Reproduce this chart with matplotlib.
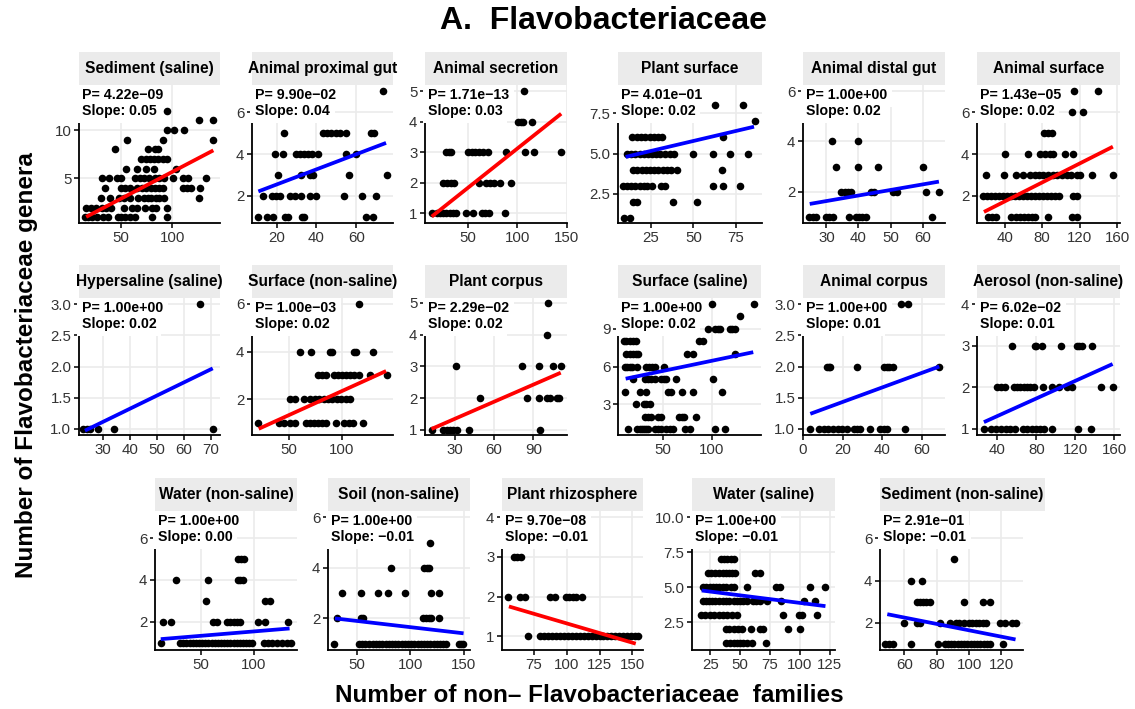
import matplotlib
matplotlib.use("Agg")
import matplotlib.pyplot as plt
import numpy as np

plt.rcParams['font.family'] = ['Liberation Sans', 'DejaVu Sans']

M = '\u2212'

# points per panel: {number of genera: [number of families, ...]}
sediment_saline = {
    12: [95], 11: [126, 140], 10: [94.5, 102, 111], 9: [56, 91, 140],
    8: [44, 76, 83, 86], 7: [69, 74, 78, 82, 86, 91, 95], 6: [55, 66, 74, 82, 104],
    5: [31, 38, 46, 50, 64, 68, 72, 77, 83, 87, 92, 101, 110, 115, 133],
    4: [34, 50, 54, 59, 66, 70, 74, 79, 83, 87, 91, 110, 114, 118, 127],
    3: [30, 39, 48, 53, 59, 67, 72, 76, 79, 84, 87, 92, 126],
    2: [16, 21, 26, 31, 35, 40, 53, 61, 66, 73, 80, 84, 95],
    1: [15, 18, 22, 27, 32, 37, 47, 50, 54, 59, 64, 80, 95],
}
animal_proximal_gut = {
    7: [73.3], 5: [23.7, 43.3, 45.5, 47.5, 49.7, 51.7, 55, 67.5, 69],
    4: [19, 23, 29.5, 31.7, 33.8, 35.8, 38, 40.8, 55, 60],
    3: [20.8, 32, 36.7, 38.3, 56.3, 75.3],
    2: [13.3, 17.5, 19.7, 21.7, 26.7, 29.2, 32, 36.7, 40, 54, 62.8, 70],
    1: [10.8, 15, 18.3, 24.2, 25.8, 32.5, 33.7, 65, 68.3],
}
animal_secretion = {
    5: [107], 4: [101, 103.5, 105.5, 115],
    3: [28, 31, 33, 50, 53.5, 57, 61, 65.4, 70.5, 88.5, 108, 117, 144],
    2: [24.7, 29, 33, 35.6, 61, 67.8, 72, 76, 82, 93.6],
    1: [12.9, 18, 21.4, 24.7, 28, 31.5, 35, 37.6, 47.5, 54.6, 63.7, 67.1, 71.5, 87.5],
}
plant_surface = {
    8: [63, 79.4], 7: [86.4],
    6: [13.6, 16.6, 19, 21.5, 24.1, 26.5, 28.9, 31.4, 67.6],
    5: [10.7, 13, 15.6, 18.2, 20.6, 23, 25.5, 28, 30.4, 33.4, 36, 38.3, 49.6, 61.7, 71.5, 82.4],
    4: [14.6, 17, 19.6, 22.1, 24.5, 26.9, 29.4, 32, 34.4, 37, 40.3, 67],
    3: [8.7, 11, 13.4, 15.8, 18.2, 20.6, 22.9, 25.3, 30.8, 33.4, 61.7, 67.6, 77.5],
    2: [14.6, 17, 38, 52], 1: [9.1, 12.6],
}
animal_distal_gut = {
    4: [31.9, 40], 3: [32.9, 40, 46, 60],
    2: [34.6, 35.7, 36.7, 37.7, 43.9, 45, 50.9, 51.9, 61, 65.1],
    1: [24.6, 25.7, 26.7, 29.8, 30.8, 32.1, 36.9, 39.1, 40.1, 41.2, 42.2, 63.1],
}
animal_surface = {
    7: [114.3, 140], 6: [112.1, 123.9], 5: [81.8, 86.4, 91],
    4: [40.7, 65, 77.5, 82.9, 88.2, 91.8, 104.3, 113.2],
    3: [20, 39, 52.5, 60, 67.5, 72, 77, 81, 86, 92, 96, 101, 106, 111, 117, 120, 133, 156],
    2: [16.8, 21.1, 25.4, 29.6, 33.9, 38.2, 42.5, 46.8, 51.1, 55.4, 59.6, 63.9, 68.2, 72.5,
        76.8, 81.1, 85.4, 89.6, 93.9, 98.2, 113.2, 117.5],
    1: [22.1, 26.8, 31.1, 47.1, 51.8, 56.1, 60.4, 65, 69.6, 72.1, 86.4, 111.4, 116.8],
}
hypersaline_saline = {
    3: [66], 1: [22.6, 24.1, 25.1, 28.1, 34.1, 70.9],
}
surface_non_saline = {
    6: [115.6], 4: [60.3, 71.2, 89, 90.6, 110.9, 113.4, 129],
    3: [77.1, 81.3, 85.3, 92.1, 95.9, 100, 104, 107.8, 111.5, 115.6, 126.5, 142.2],
    2: [51.5, 55.6, 64.7, 70.3, 74.3, 78.4, 82.8, 86.9, 90.9, 95.3, 99.3, 103.4, 107.8],
    1: [21.3, 40.6, 45.3, 51.5, 56.2, 66.5, 70.3, 74, 77.8, 81.5, 85.3, 94.7, 101.5, 106.2,
        110.3, 119.7],
}
plant_corpus = {
    5: [101], 4: [100.3], 3: [30.8, 81.6, 94.4, 104.9, 111],
    2: [49.2, 85.2, 94.4, 100.3, 102.8, 108, 110],
    1: [12.2, 21.1, 23.7, 26.2, 28.7, 31.3, 41, 95.2],
}
surface_saline = {
    11: [100, 144.1], 10: [129.3],
    9: [96.5, 103.4, 106.2, 108.6, 119, 121.4, 124.1],
    8: [9.3, 12, 15.5, 18.9, 22.4, 87.2, 91.4],
    7: [12, 15.5, 18.9, 22.4, 24.1, 74.8, 81, 124.1],
    6: [10.3, 13.1, 15.5, 18.2, 23.4, 32.1, 35.5, 39, 41.4, 51],
    5: [18.9, 31, 34.5, 38, 41.4, 48.3, 51, 53.4, 63.8, 101.7],
    4: [10.3, 25.9, 32.8, 55.2, 58.6, 69, 81, 110.3],
    3: [22.4, 30.3, 32.8, 36.2],
    2: [31, 34.5, 38, 44.8, 48.3, 66.5, 69, 71.4, 83.8],
    1: [13.8, 23.1, 25.9, 28.3, 30.3, 32.8, 34.5, 41.4, 44.8, 48.3, 53.4, 56.9, 60.3, 72.4,
        77.6, 103.4, 113.8],
}
animal_corpus = {
    3: [49.6, 52.9],
    2: [12.1, 13.1, 13.9, 27.2, 41.2, 42.4, 43.7, 45.4, 68.9],
    1: [3.4, 8.1, 10.4, 12.6, 15.1, 17.6, 19.8, 22.2, 26, 27.2, 28.6, 33.9, 38.7, 40.8, 42.4, 51.8],
}
aerosol_non_saline = {
    3: [55.3, 78.4, 80, 86.3, 105.8, 121.3, 124, 126.5, 136.8],
    2: [39.9, 44, 47.4, 57, 60.1, 63.6, 67, 70.4, 73.9, 77.7, 86.9, 96.6, 103.4, 112, 116.2,
        146.4, 159.1],
    1: [26.1, 33, 38.1, 43.3, 49.1, 53.3, 57.7, 66.3, 70.8, 75.9, 80, 83.5, 88, 96.6, 123, 135.7],
}
water_non_saline = {
    5: [85, 88.2, 91.4], 4: [26.1, 57, 85, 87.3, 89.8], 3: [54.5, 110.5, 115.3],
    2: [13.4, 21.3, 61.8, 65, 74.5, 77.7, 81.5, 84.1, 87.3, 104.1, 111.1, 132.8],
    1: [11.5, 30, 33, 36, 39, 42, 45, 48, 51, 54, 57, 60, 63, 66, 69, 72, 75, 78, 81, 84, 87,
        90, 93, 96, 99, 110, 114, 118, 122, 127, 132, 136],
}
soil_non_saline = {
    5: [118.8], 4: [82.2, 113.1, 115.6, 118.1],
    3: [35.9, 54.1, 69.7, 79, 95.3, 119.7, 126.6],
    2: [31.9, 54.1, 55.6, 112.5, 115, 117.2, 119.7, 126.6],
    1: [29.1, 52.5, 55, 58, 62, 65, 68, 71, 74, 77, 80, 83, 86, 89, 92, 95, 98, 101, 104, 107,
        110, 113, 116, 119, 122, 125, 128, 131, 134, 145.3, 147.5, 149.4],
}
plant_rhizosphere = {
    3: [60, 62.5, 65.5],
    2: [55.8, 64.5, 68.3, 87.5, 91.3, 99.5, 102, 104.5, 107, 112],
    1: [70.8, 80, 83, 86, 89, 92, 95, 98, 101, 104, 107, 110, 113, 116, 119, 122, 125, 128,
        131, 134, 137, 140, 143, 146, 149, 152, 154],
}
water_saline = {
    7: [34, 36.7, 39.4, 42, 44.7],
    6: [23.2, 25.9, 28.6, 32.6, 35.3, 38, 40.7, 43.4, 46.1, 62.8, 66.3],
    5: [19.1, 21.8, 24.5, 27.2, 29.9, 32.6, 35.3, 38, 42, 44.7, 55.5, 79.8, 83.3, 108.9, 121.6],
    4: [18.6, 21.3, 24, 26.7, 29.4, 32.1, 35.3, 38, 40.7, 44.7, 47.4, 50.1, 52.8, 55.5, 60.9,
        63.6, 66.3, 72.5, 84.6, 104, 112.7],
    3: [17.3, 20.5, 24.5, 28, 32.6, 35.3, 39.4, 43.4, 47.4, 85.7, 99.5, 102.2, 114.8],
    2: [38, 40.7, 44.7, 48.2, 51.5, 59, 67.1, 69, 90, 100],
    1: [38, 41.5, 44.7, 47.4, 50.1, 52.8, 55.5, 59.6, 71.7],
}
sediment_non_saline = {
    5: [90.8], 4: [64, 71],
    3: [67.6, 69.6, 71.7, 73.7, 75.8, 96.9, 108.6, 112.7],
    2: [60, 67.6, 69.6, 81.9, 88.1, 91.8, 93.8, 96.9, 100, 102, 104.1, 106.2, 108.6, 110.7,
        119.3, 122, 126.7, 129.2],
    1: [48, 50.7, 53.2, 64, 80.9, 85, 87, 89, 91, 93, 95, 97, 99, 101, 103, 105, 107, 109,
        111, 113, 121],
}

panel_names = ["Sediment (saline)", "Animal proximal gut", "Animal secretion", "Plant surface",
               "Animal distal gut", "Animal surface",
               "Hypersaline (saline)", "Surface (non-saline)", "Plant corpus", "Surface (saline)",
               "Animal corpus", "Aerosol (non-saline)",
               "Water (non-saline)", "Soil (non-saline)", "Plant rhizosphere", "Water (saline)",
               "Sediment (non-saline)"]
panel_data = [sediment_saline, animal_proximal_gut, animal_secretion, plant_surface,
              animal_distal_gut, animal_surface,
              hypersaline_saline, surface_non_saline, plant_corpus, surface_saline,
              animal_corpus, aerosol_non_saline,
              water_non_saline, soil_non_saline, plant_rhizosphere, water_saline,
              sediment_non_saline]
p_values = [4.22e-09, 9.90e-02, 1.71e-13, 4.01e-01, 1.00e+00, 1.43e-05,
            1.00e+00, 1.00e-03, 2.29e-02, 1.00e+00, 1.00e+00, 6.02e-02,
            1.00e+00, 1.00e+00, 9.70e-08, 1.00e+00, 2.91e-01]
slopes = [0.05, 0.04, 0.03, 0.02, 0.02, 0.02,
          0.02, 0.02, 0.02, 0.02, 0.01, 0.01,
          0.00, -0.01, -0.01, -0.01, -0.01]
# fitted line end points
fit_x = [(16, 140), (10.8, 75), (13, 144.4), (10, 85.8), (24.8, 65.1), (17.9, 155.4),
         (23.2, 70.7), (21.8, 141.5), (12.2, 111), (11.4, 143), (3.7, 68.9), (26.1, 158.4),
         (11.5, 134.4), (29.7, 150), (56.25, 152.5), (17.8, 121.6), (49.5, 128.7)]
fit_y = [(1.03, 7.9), (2.21, 4.53), (0.89, 4.26), (4.79, 6.67), (1.51, 2.4), (1.23, 4.35),
         (0.97, 1.97), (0.75, 3.18), (1.03, 2.8), (5.03, 7.14), (1.24, 2.0), (1.16, 2.56),
         (1.17, 1.68), (2.0, 1.41), (1.75, 0.81), (4.76, 3.64), (2.4, 1.2)]
x_limits = [(9, 146.5), (7.6, 78.5), (6.2, 150.3), (5.5, 90.5), (22.7, 67), (10.5, 163),
            (21, 73.4), (15.5, 148), (7.2, 115.8), (3.5, 151), (0, 71.8), (19, 166),
            (6, 141.5), (23.2, 156), (51, 158), (9.7, 129.6), (45, 133.3)]
y_limits = [(0.4, 14.65), (0.7, 7.3), (0.68, 5.2), (0.67, 9.27), (0.75, 6.25), (0.7, 7.3),
            (0.9, 3.1), (0.49, 6.25), (0.84, 5.15), (0.55, 11.45), (0.9, 3.1), (0.85, 4.15),
            (0.65, 7.3), (0.75, 6.25), (0.65, 4.16), (0.5, 10.45), (0.7, 7.3)]
x_ticks = [[50, 100], [20, 40, 60], [50, 100, 150], [25, 50, 75], [30, 40, 50, 60], [40, 80, 120, 160],
           [30, 40, 50, 60, 70], [50, 100], [30, 60, 90], [50, 100], [0, 20, 40, 60], [40, 80, 120, 160],
           [50, 100], [50, 100, 150], [75, 100, 125, 150], [25, 50, 75, 100, 125], [60, 80, 100, 120]]
y_ticks = [[5, 10], [2, 4, 6], [1, 2, 3, 4, 5], [2.5, 5.0, 7.5], [2, 4, 6], [2, 4, 6],
           [1.0, 1.5, 2.0, 2.5, 3.0], [2, 4, 6], [1, 2, 3, 4, 5], [3, 6, 9], [1.0, 1.5, 2.0, 2.5, 3.0], [1, 2, 3, 4],
           [2, 4, 6], [2, 4, 6], [1, 2, 3, 4], [2.5, 5.0, 7.5, 10.0], [2, 4, 6]]

# panel boxes in pixels: left, right, top, bottom
W, H = 1135, 709
row_tb = [(85, 223), (298, 435), (511, 650)]
row_lr = [[(79, 220), (252, 393), (425, 567), (618, 762), (803, 945), (977, 1120)],
          [(79, 220), (252, 393), (425, 567), (618, 761), (803, 945), (977, 1120)],
          [(155, 297), (328, 470), (502, 643), (692, 835), (880, 1023)]]
strip_h = 33


def fmt(v):
    s = f"{v:.2e}"
    return s.replace('-', M)


fig = plt.figure(figsize=(W / 100, H / 100), dpi=100)

i = 0
for r, lrs in enumerate(row_lr):
    top, bot = row_tb[r]
    for left, right in lrs:
        ax = fig.add_axes([left / W, 1 - bot / H, (right - left) / W, (bot - top) / H])
        pts = panel_data[i]
        xs = np.concatenate([np.array(v, dtype=float) for v in pts.values()])
        ys = np.concatenate([np.full(len(v), k, dtype=float) for k, v in pts.items()])
        col = 'red' if p_values[i] < 0.05 else 'blue'

        ax.scatter(xs, ys, s=30, color='black', linewidths=0, zorder=3)
        ax.plot(fit_x[i], fit_y[i], color=col, lw=2.7, solid_capstyle='butt', zorder=4)

        ax.set_xlim(*x_limits[i])
        ax.set_ylim(*y_limits[i])
        ax.set_xticks(x_ticks[i])
        ax.set_yticks(y_ticks[i])
        if any(t % 1 for t in y_ticks[i]):
            ax.set_yticklabels([f"{t:.1f}" for t in y_ticks[i]])
        ax.grid(True, color='#EBEBEB', lw=1.2)
        ax.set_axisbelow(True)
        for s in ['top', 'right']:
            ax.spines[s].set_visible(False)
        for s in ['left', 'bottom']:
            ax.spines[s].set_linewidth(1.3)
        ax.tick_params(direction='out', length=3.5, width=1.1, color='black',
                       labelsize=10.8, labelcolor='#333333', pad=2)

        box = dict(boxstyle='square,pad=0.35', fc='white', ec='none')
        ax.annotate(f"P= {fmt(p_values[i])}", xy=(0, 1), xycoords='axes fraction',
                    xytext=(2, -2), textcoords='offset points', ha='left', va='top',
                    fontsize=10.2, fontweight='bold', bbox=box, zorder=6)
        ax.annotate(f"Slope: {slopes[i]:.2f}".replace('-', M), xy=(0, 1), xycoords='axes fraction',
                    xytext=(2, -13.5), textcoords='offset points', ha='left', va='top',
                    fontsize=10.2, fontweight='bold', bbox=box, zorder=6)

        # strip title
        sright = 1045 if panel_names[i] == "Sediment (non-saline)" else right
        sax = fig.add_axes([left / W, 1 - top / H, (sright - left) / W, strip_h / H])
        sax.set_facecolor('#EBEBEB')
        sax.set_xticks([])
        sax.set_yticks([])
        for s in sax.spines.values():
            s.set_visible(False)
        sax.text(0.5, 0.5, panel_names[i], ha='center', va='center', fontsize=11.2,
                 fontweight='bold', transform=sax.transAxes, clip_on=False)
        i += 1

fig.text(603 / W, 1 - 21 / H, "A.  Flavobacteriaceae", ha='center', va='center',
         fontsize=23, fontweight='bold')
fig.text(589 / W, 1 - 695 / H, "Number of non\u2013 Flavobacteriaceae  families", ha='center',
         va='center', fontsize=17.5, fontweight='bold')
fig.text(27 / W, 1 - 365 / H, "Number of Flavobacteriaceae genera", ha='center', va='center',
         rotation=90, fontsize=17.5, fontweight='bold')

fig.savefig("out.png", dpi=100)
